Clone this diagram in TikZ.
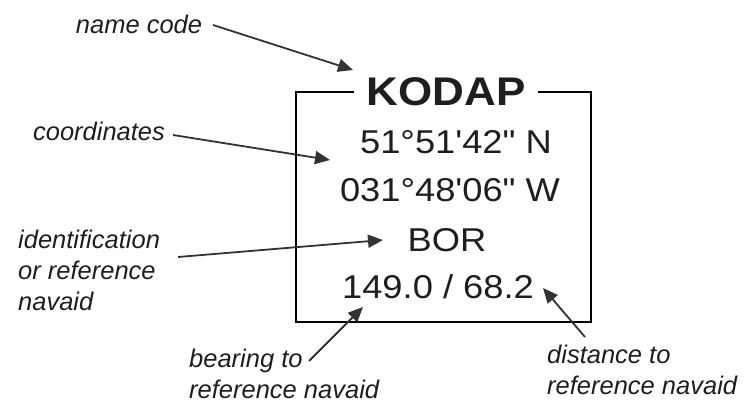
\documentclass[tikz,border=0pt]{standalone}
\usepackage{fontspec}
\setmainfont{Liberation Sans}
\newfontfamily\boxfont{Liberation Sans}
\usetikzlibrary{arrows.meta}
\definecolor{ink}{HTML}{1E1E1E}
\definecolor{arrowgray}{HTML}{333333}
\newcommand\hwide[1]{\scalebox{1.1}[1]{#1}}
\tikzset{
  mainfig/.style={font=\boxfont\fontsize{33}{38}\selectfont, text=ink, inner sep=0pt},
  codefig/.style={font=\boxfont\bfseries\fontsize{40}{44}\selectfont, text=ink, inner xsep=12pt, inner ysep=0pt},
  lbl/.style={font=\itshape\fontsize{25.5}{31}\selectfont, text=ink, inner sep=0pt, align=left},
  arr/.style={draw=arrowgray, line width=1.8pt, -{Triangle[length=15pt,width=13pt]}},
  boxline/.style={draw=black, line width=1.8pt, line join=miter}
}
\begin{document}
\begin{tikzpicture}[x=1pt,y=-1pt]
\useasboundingbox (0,0) rectangle (745,404);
% box text
\node[codefig] (kodap) at (446,92) {\hwide{KODAP}};
\node[mainfig] (lat) at (456,142) {\hwide{51°51'42" N}};
\node[mainfig] (lon) at (450,190) {\hwide{031°48'06" W}};
\node[mainfig] (bor) at (447,240) {\hwide{BOR}};
\node[mainfig] (brg) at (438,287) {\hwide{149.0 / 68.2}};
% box
\coordinate (tl) at (296,92);
\coordinate (bl) at (296,322);
\coordinate (br) at (591,322);
\coordinate (tr) at (591,92);
\draw[boxline] (kodap.west) -- (tl) -- (bl) -- (br) -- (tr) -- (kodap.east);
% labels
\node[lbl, anchor=center] (namelbl) at (139,24) {name code};
\node[lbl, anchor=center] (coordlbl) at (99,131) {coordinates};
\node[lbl, anchor=west] (identlbl) at (18,270) {identification\\or reference\\navaid};
\node[lbl, anchor=west] (bearlbl) at (189,374) {bearing to\\reference navaid};
\node[lbl, anchor=west] (distlbl) at (547,370) {distance to\\reference navaid};
% arrow end points
\coordinate (nameS) at (213,25);
\coordinate (nameT) at (353,70);
\coordinate (coordS) at (173,135);
\coordinate (coordT) at (330,160);
\coordinate (identS) at (178,257);
\coordinate (identT) at (383,240);
\coordinate (bearS) at (309,361);
\coordinate (bearT) at (363,307);
\coordinate (distS) at (585,337);
\coordinate (distT) at (543,288);
% arrows
\draw[arr] (nameS) -- (nameT);
\draw[arr] (coordS) -- (coordT);
\draw[arr] (identS) -- (identT);
\draw[arr] (bearS) -- (bearT);
\draw[arr] (distS) -- (distT);
\end{tikzpicture}
\end{document}
